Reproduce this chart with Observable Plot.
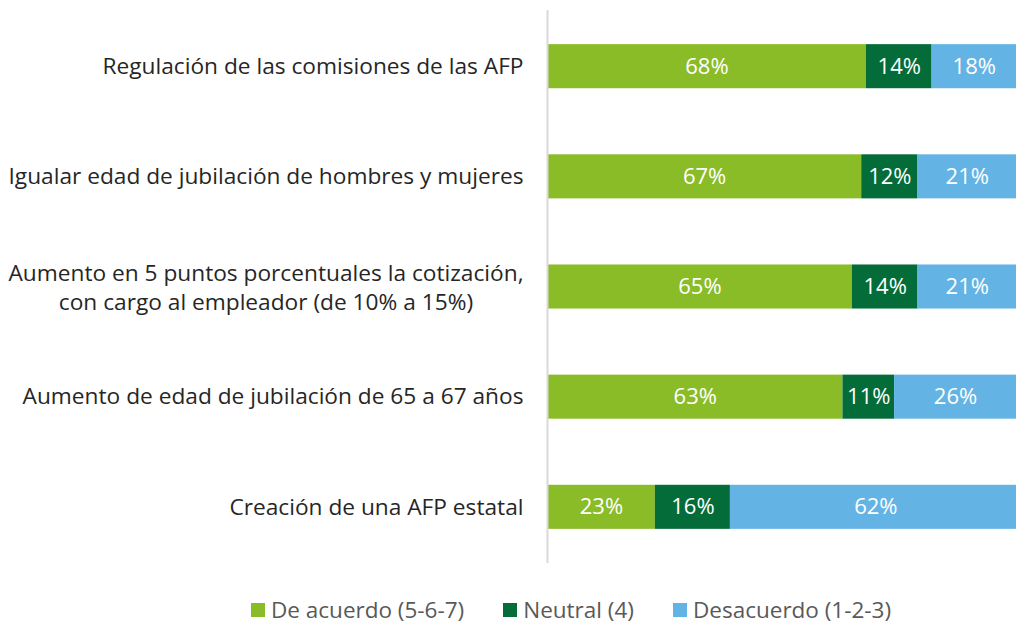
<!DOCTYPE html>
<html><head><meta charset="utf-8">
<script src="https://cdn.jsdelivr.net/npm/d3@7"></script>
<script src="https://cdn.jsdelivr.net/npm/@observablehq/plot@0.6"></script>
<style>
body{margin:0;background:#fff;font-family:"Open Sans",sans-serif;}
#legend{display:flex;gap:39px;margin-top:22px;margin-left:251px;font-size:22.5px;color:#595959;width:max-content;line-height:30px;}
#legend span.item{display:flex;align-items:center;}
#legend span.sw{display:inline-block;width:14px;height:14px;margin-right:6px;}
</style></head>
<body><div id="chart"></div><div id="legend"></div>
<script>
const items = [
  "Regulación de las comisiones de las AFP",
  "Igualar edad de jubilación de hombres y mujeres",
  "Aumento en 5 puntos porcentuales la cotización,\ncon cargo al empleador (de 10% a 15%)",
  "Aumento de edad de jubilación de 65 a 67 años",
  "Creación de una AFP estatal"
];
const categories = ["De acuerdo (5-6-7)", "Neutral (4)", "Desacuerdo (1-2-3)"];
const colors = ["#8abc28", "#036c38", "#63b4e4"];
const acuerdo = [68, 67, 65, 63, 23];
const neutral = [14, 12, 14, 11, 16];
const desacuerdo = [18, 21, 21, 26, 62];
const series = [acuerdo, neutral, desacuerdo];

const data = [];
items.forEach((it, i) => categories.forEach((c, j) => data.push({item: it, cat: c, value: series[j][i]})));

const labelSize = 22.7;
const ctx = document.createElement("canvas").getContext("2d");
ctx.font = `${labelSize}px "Open Sans"`;
const single = items.filter(d => !d.includes("\n"));
const multi = items.filter(d => d.includes("\n"));
const multiW = d3.max(multi, d => d3.max(d.split("\n"), l => ctx.measureText(l).width)) || 0;

const chart = Plot.plot({
  width: 1016, height: 573,
  marginLeft: 547, marginRight: 0, marginTop: 10, marginBottom: 10,
  style: {fontFamily: "Open Sans", overflow: "hidden"},
  x: {domain: [0, 100], axis: null},
  y: {domain: items, axis: null, paddingInner: 0.6, paddingOuter: 0.31, round: false},
  color: {domain: categories, range: colors},
  marks: [
    Plot.barX(data, Plot.stackX({x: "value", y: "item", fill: "cat", order: null})),
    Plot.textX(data, Plot.stackX({x: "value", y: "item", z: "cat", order: null, text: d => d.value + "%", fill: "white", fontSize: 22})),
    Plot.text(single, {x: 0, y: d => d, text: d => d, textAnchor: "end", dx: -24, fontSize: labelSize, fill: "#262626"}),
    Plot.text(multi, {x: 0, y: d => d, text: d => d, textAnchor: "middle", dx: -24 - multiW / 2, dy: -1, fontSize: labelSize, fill: "#262626", lineHeight: 1.3}),
    Plot.ruleX([0], {stroke: "#d9d9d9", strokeWidth: 2})
  ]
});
document.getElementById("chart").appendChild(chart);

const lg = document.getElementById("legend");
categories.forEach((c, j) => {
  const s = document.createElement("span"); s.className = "item";
  s.innerHTML = `<span class="sw" style="background:${colors[j]}"></span>${c}`;
  lg.appendChild(s);
});
</script></body></html>
